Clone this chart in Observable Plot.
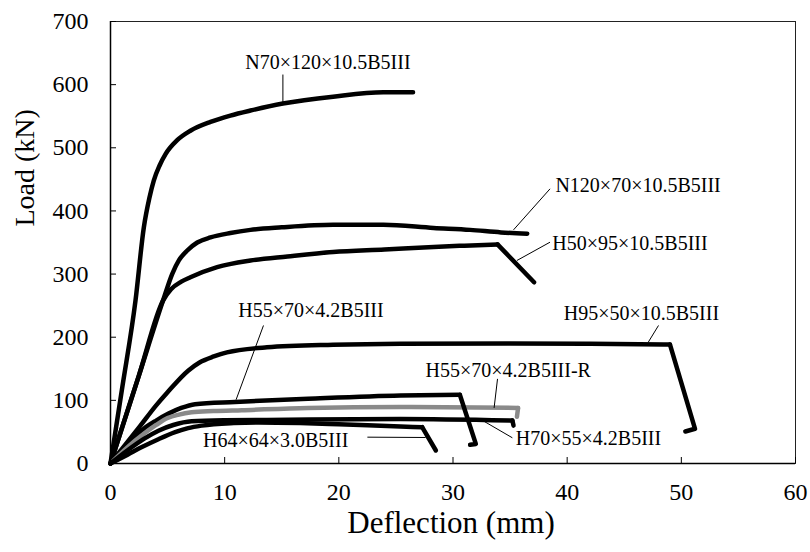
<!DOCTYPE html>
<html><head><meta charset="utf-8">
<script src="https://cdn.jsdelivr.net/npm/d3@7"></script>
<script src="https://cdn.jsdelivr.net/npm/@observablehq/plot@0.6"></script>
<style>
body{margin:0;background:#fff}
#chart{width:810px;height:552px}
</style>
</head><body><div id="chart"></div>
<script>
const xTicks = [0, 10, 20, 30, 40, 50, 60];
const yTicks = [0, 100, 200, 300, 400, 500, 600, 700];

// Load–deflection curves (deflection mm, load kN)
const n70X  = [0, 1.0, 2.19, 2.92, 3.4, 3.79, 4.3, 4.82, 5.84, 7.0, 8.76, 10.5, 12.26, 15.1, 19.5, 23.9, 26.5];
const n70Y  = [0, 117, 258, 374, 420, 448, 472, 490, 512, 527, 541, 551, 559, 570, 581, 588, 588];
const n120X = [0, 2.5, 4.6, 5.4, 6.0, 6.7, 7.6, 8.76, 10.5, 12.26, 15, 19.5, 23.9, 28.3, 31.5, 34.2, 36.5];
const n120Y = [0, 140, 258, 300, 322, 337, 350, 358, 365, 370, 374, 378, 378, 373, 370, 366, 364];
const h50X  = [0, 2.5, 4.6, 5.3, 6.2, 7.0, 9.34, 12.26, 15.5, 19.5, 24, 28.3, 31, 33.9, 37.1];
const h50Y  = [0, 140, 258, 276, 288, 295, 311, 321.5, 328, 335, 339, 343, 345, 347, 287];
const h95X  = [0, 2.5, 4.0, 4.96, 6.8, 7.8, 9.05, 10.2, 13.7, 19.5, 25.4, 35, 42, 49.0, 51.2, 50.35];
const h95Y  = [0, 57, 92, 112, 147, 160, 169.5, 176, 184, 188, 189.6, 190, 189.5, 188.5, 55, 50.7];
const h55X  = [0, 1.5, 2.92, 4.0, 5.08, 6.2, 7.4, 10.9, 17.3, 25.4, 30.6, 32.0, 31.5];
const h55Y  = [0, 30, 55, 68, 79, 88, 94, 97.5, 102.5, 107.7, 108.8, 31, 29.6];
const h55rX = [0, 1.5, 2.92, 4.0, 5.0, 6.0, 7.1, 9.0, 11.5, 17.3, 25.4, 35.7, 35.6];
const h55rY = [0, 26, 47, 61, 72, 77.5, 81, 83, 84.5, 88, 89.5, 88, 74];
const h70X  = [0, 1.5, 2.92, 4.2, 5.5, 7.1, 10, 13.7, 25.4, 35.2, 35.3];
const h70Y  = [0, 21, 39, 52, 61, 67, 68.5, 69, 70.5, 68, 60];
const h64X  = [0, 1.5, 2.75, 4.2, 5.66, 6.8, 8.0, 10.8, 13, 16.6, 20, 25.4, 27.3, 28.5];
const h64Y  = [0, 14, 26, 38.5, 49.6, 56, 60, 64, 65, 64, 62, 58.6, 57.5, 20.6];

const seriesNames  = ["N70×120×10.5B5III", "N120×70×10.5B5III", "H50×95×10.5B5III", "H95×50×10.5B5III",
                      "H55×70×4.2B5III", "H55×70×4.2B5III-R", "H70×55×4.2B5III", "H64×64×3.0B5III"];
const seriesXs     = [n70X, n120X, h50X, h95X, h55X, h55rX, h70X, h64X];
const seriesYs     = [n70Y, n120Y, h50Y, h95Y, h55Y, h55rY, h70Y, h64Y];
const seriesColors = ["#000", "#000", "#000", "#000", "#000", "#8a8a8a", "#000", "#000"];
// index of the peak point where each smooth curve turns into its straight failure branch
const peakIndex    = [16, 16, 13, 13, 10, 11, 9, 12];

// Annotation labels (left edge, vertical centre) and leader lines, in data units
const labelX  = [11.8, 38.97, 38.7, 39.7, 11.2, 27.6, 35.5, 8.1];
const labelY  = [635.6, 440, 348, 237.6, 242, 147, 39.6, 36.4];
const leaderX1 = [15.1, 35.3, 35.6, 47.1, 11.0, 33.6, 32.7, 22.5];
const leaderY1 = [572, 370, 321.5, 192, 101, 88, 67, 41.7];
const leaderX2 = [15.1, 38.5, 38.5, 48.0, 13.4, 33.9, 35.2, 27.6];
const leaderY2 = [616, 435, 350.5, 218.6, 218.6, 134, 40.7, 41.2];

const bodies = seriesNames.map((name, i) =>
  seriesXs[i].slice(0, peakIndex[i] + 1).map((x, j) => ({x, y: seriesYs[i][j], color: seriesColors[i]})));
const tails = seriesNames.map((name, i) =>
  seriesXs[i].slice(peakIndex[i]).map((x, j) => ({x, y: seriesYs[i][peakIndex[i] + j], color: seriesColors[i]})));
const labels = seriesNames.map((name, i) => ({name, x: labelX[i], y: labelY[i]}));
const leaders = seriesNames.map((name, i) => ({x1: leaderX1[i], y1: leaderY1[i], x2: leaderX2[i], y2: leaderY2[i]}));

const W = 810, H = 552, mL = 110, mR = 15, mT = 21, mB = 89;
const fw = W - mL - mR, fh = H - mT - mB;
const serif = "Liberation Serif";
const lineStyle = {x: "x", y: "y", stroke: d => d.color, strokeWidth: 4.5, strokeLinejoin: "round", strokeLinecap: "round"};

const chart = Plot.plot({
  width: W, height: H,
  marginLeft: mL, marginRight: mR, marginTop: mT, marginBottom: mB,
  style: {fontFamily: serif, fontSize: "24px", color: "#000", background: "#fff"},
  x: {domain: [0, 60], label: null, axis: null},
  y: {domain: [0, 700], label: null, axis: null},
  marks: [
    Plot.frame({stroke: "#222", strokeWidth: 1}),
    ...bodies.map(b => Plot.line(b, {...lineStyle, curve: "monotone-x"})),
    ...tails.filter(t => t.length > 1).map(t => Plot.line(t, {...lineStyle, curve: "linear"})),
    Plot.link(leaders, {x1: "x1", y1: "y1", x2: "x2", y2: "y2", stroke: "#000", strokeWidth: 1}),
    Plot.text(labels, {x: "x", y: "y", text: "name", textAnchor: "start", fontSize: 20, fontFamily: serif, fill: "#000"}),
    Plot.ruleX([0], {stroke: "#000", strokeWidth: 1.5}),
    Plot.ruleY([0], {stroke: "#000", strokeWidth: 1.5}),
    Plot.tickX(xTicks, {x: d => d, insetTop: fh - 6, stroke: "#000", strokeWidth: 1}),
    Plot.tickY(yTicks, {y: d => d, insetRight: fw - 6, stroke: "#000", strokeWidth: 1}),
    Plot.axisX(xTicks, {tickSize: 0, tickPadding: 19, tickFormat: d => d, fontSize: 24, fontFamily: serif}),
    Plot.axisY(yTicks, {tickSize: 0, tickPadding: 22, tickFormat: d => d, fontSize: 24, fontFamily: serif}),
    Plot.text(["Deflection (mm)"], {frameAnchor: "bottom", dx: -2, dy: 69, fontSize: 31, fontFamily: serif, fill: "#000"}),
    Plot.text(["Load (kN)"], {frameAnchor: "left", dx: -85, dy: -16, rotate: -90, fontSize: 28, fontFamily: serif, fill: "#000"})
  ]
});
document.getElementById("chart").appendChild(chart);
</script>
</body></html>
